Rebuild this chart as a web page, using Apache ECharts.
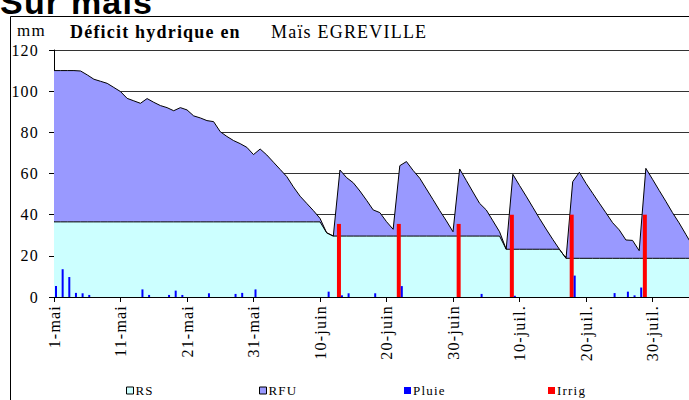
<!DOCTYPE html>
<html>
<head>
<meta charset="utf-8">
<script src="https://cdn.jsdelivr.net/npm/echarts@6/dist/echarts.min.js"></script>
<style>
html, body { margin: 0; padding: 0; background: #fff; }
#chart { width: 689px; height: 400px; }
#chart text { letter-spacing: 1.2px; }
</style>
</head>
<body>
<div id="chart"></div>
<script>
// réserve totale (RS + RFU) jour par jour depuis le 1er mai, en mm
var reserveTotale = [110, 110, 110, 110, 109.8, 107.9, 105.8, 104.8, 103.8, 101.8,
	99.8, 96.5, 95.3, 94.1, 96.4, 94.6, 93, 92, 90.5, 92,
	90.9, 88, 87, 85.7, 85.2, 80.3, 78, 76, 74.5, 72.7,
	69.2, 71.9, 69, 65.5, 62, 58.5, 53.5, 49, 45.5, 42,
	38.2, 31.2, 29.6, 61.7, 58, 55.5, 51.5, 47, 42.3, 41,
	36.6, 32.9, 63.8, 65.8, 61.5, 57.7, 52.5, 47.3, 42, 37,
	31.7, 62.2, 56.6, 51, 45.5, 42.3, 37, 31.7, 23.2, 59.6,
	54.2, 49, 43.6, 38.2, 33, 28, 23.2, 18.8, 56, 60.6,
	55.2, 50.4, 45.6, 40.9, 36.1, 32.6, 27.7, 27.5, 22.5, 62.5,
	57.2, 51.8, 46.5, 41, 36, 30.5, 25]
// réserve de survie (RS)
var rs = [36.5, 36.5, 36.5, 36.5, 36.5, 36.5, 36.5, 36.5, 36.5, 36.5,
	36.5, 36.5, 36.5, 36.5, 36.5, 36.5, 36.5, 36.5, 36.5, 36.5,
	36.5, 36.5, 36.5, 36.5, 36.5, 36.5, 36.5, 36.5, 36.5, 36.5,
	36.5, 36.5, 36.5, 36.5, 36.5, 36.5, 36.5, 36.5, 36.5, 36.5,
	36.5, 31.2, 29.6, 29.6, 29.6, 29.6, 29.6, 29.6, 29.6, 29.6,
	29.6, 29.6, 29.6, 29.6, 29.6, 29.6, 29.6, 29.6, 29.6, 29.6,
	29.6, 29.6, 29.6, 29.6, 29.6, 29.6, 29.6, 29.6, 23.2, 23.2,
	23.2, 23.2, 23.2, 23.2, 23.2, 23.2, 23.2, 18.8, 18.8, 18.8,
	18.8, 18.8, 18.8, 18.8, 18.8, 18.8, 18.8, 18.8, 18.8, 18.8,
	18.8, 18.8, 18.8, 18.8, 18.8, 18.8, 18.8]
// pluie (jour, mm)
var pluieJours = [0, 1, 2, 3, 4, 5, 13, 14, 17, 18, 19, 23, 27, 28, 30, 41, 43, 44, 48, 52, 64, 69, 78, 84, 86, 87, 88]
var pluieMm = [5.3, 13.5, 9.7, 2, 1.8, 1, 3.7, 1, 1, 3.1, 1, 1.8, 1.5, 2, 3.7, 2.6, 0.8, 1.8, 1.8, 5.3, 1.5, 0.6, 10.4, 1.9, 2.6, 0.8, 4.6]
// irrigations (jour, mm)
var irrigJours = [43, 52, 61, 69, 78, 89]
var irrigMm = [35.5, 35.5, 35.5, 40, 40, 40]

var mois = ['mai', 'juin', 'juil.', 'août']
var joursMois = [31, 30, 31, 31]
var yTicks = [0, 20, 40, 60, 80, 100, 120]

//catégories : 1-mai ... 4-août (le graphique est coupé à droite)
var dates = []
for (var m = 0; m < mois.length; m++) {
	for (var j = 1; j <= joursMois[m]; j++) {
		dates.push(j + '-' + mois[m])
	}
}
dates = dates.slice(0, reserveTotale.length)

var rfu = reserveTotale.map(function(v, i) { return +(v - rs[i]).toFixed(1) })
var pluie = dates.map(function() { return null })
pluieJours.forEach(function(d, i) { pluie[d] = pluieMm[i] })
var irrig = dates.map(function() { return null })
irrigJours.forEach(function(d, i) { irrig[d] = irrigMm[i] })

var serif = 'Liberation Serif'
var pasJour = 6.65 //largeur d'un jour en px
var largeurPlot = (dates.length - 1) * pasJour

//une légende par élément pour placer chacun comme dans l'original
function legende(nom, x, couleur, bord) {
	return {
		left: x, top: 379,
		itemWidth: 7, itemHeight: 7,
		textStyle: { fontFamily: serif, fontSize: 13, color: '#000', padding: [0, 0, 0, -3] },
		data: [{ name: nom, icon: 'rect', itemStyle: { color: couleur, borderColor: '#000', borderWidth: bord } }]
	}
}

var chart = echarts.init(document.getElementById('chart'), null, { renderer: 'svg' })
chart.setOption({
	animation: false,
	grid: { left: 54, top: 50, width: largeurPlot, bottom: 103, containLabel: false, outerBoundsMode: 'none' },
	graphic: [
		{ type: 'rect', shape: { x: 10.5, y: 16.5, width: 700, height: 400 }, style: { fill: 'none', stroke: '#000', lineWidth: 1 } },
		{ type: 'text', left: 0, top: -15, style: { text: 'Sur maïs', font: 'bold 34px "Liberation Sans"', fill: '#000' } },
		{ type: 'text', left: 17, top: 22, style: { text: 'mm', font: '17px "Liberation Serif"', fill: '#000' } },
		{ type: 'text', left: 70, top: 23, style: { text: 'Déficit hydrique en', font: 'bold 18px "Liberation Serif"', fill: '#000' } },
		{ type: 'text', left: 271, top: 23, style: { text: 'Maïs EGREVILLE', font: '18px "Liberation Serif"', fill: '#000' } }
	],
	legend: [
		legende('RS', 121, '#CCFFFF', 1),
		legende('RFU', 254, '#9999FF', 1),
		legende('Pluie', 399, '#0000FF', 0),
		legende('Irrig', 543, '#FF0000', 0)
	],
	xAxis: [{
		type: 'category',
		data: dates,
		boundaryGap: false,
		axisLine: { lineStyle: { color: '#000', width: 1 } },
		axisTick: { interval: 9, length: 5, lineStyle: { color: '#000' } },
		axisLabel: { interval: 9, rotate: 90, margin: 8, fontFamily: serif, fontSize: 16, color: '#000' },
		splitLine: { show: false }
	}, {
		type: 'category',
		data: dates,
		boundaryGap: false,
		position: 'bottom',
		axisLine: { show: false },
		axisTick: { inside: true, interval: 0, length: 3, lineStyle: { color: '#000' } },
		axisLabel: { show: false },
		splitLine: { show: false }
	}],
	yAxis: {
		type: 'value',
		min: yTicks[0], max: yTicks[yTicks.length - 1], interval: 20,
		axisLine: { show: true, lineStyle: { color: '#000' } },
		axisTick: { show: true, length: 5, lineStyle: { color: '#000' } },
		axisLabel: { margin: 15, fontFamily: serif, fontSize: 16, color: '#000' },
		splitLine: { lineStyle: { color: '#333', width: 1 } }
	},
	series: [{
		name: 'RS', type: 'line', stack: 'reserve', data: rs,
		symbol: 'none', z: 1,
		lineStyle: { color: '#000', width: 1 },
		areaStyle: { color: '#CCFFFF', opacity: 1 },
		itemStyle: { color: '#CCFFFF' }
	}, {
		name: 'RFU', type: 'line', stack: 'reserve', data: rfu,
		symbol: 'none', z: 1,
		lineStyle: { color: '#000', width: 1 },
		areaStyle: { color: '#9999FF', opacity: 1 },
		itemStyle: { color: '#9999FF' }
	}, {
		name: 'Irrig', type: 'bar', data: irrig,
		barWidth: 4, barGap: '0%', z: 3,
		itemStyle: { color: '#FF0000' }
	}, {
		name: 'Pluie', type: 'bar', data: pluie,
		barWidth: 2, z: 3,
		itemStyle: { color: '#0000FF' }
	}]
})
</script>
</body>
</html>
